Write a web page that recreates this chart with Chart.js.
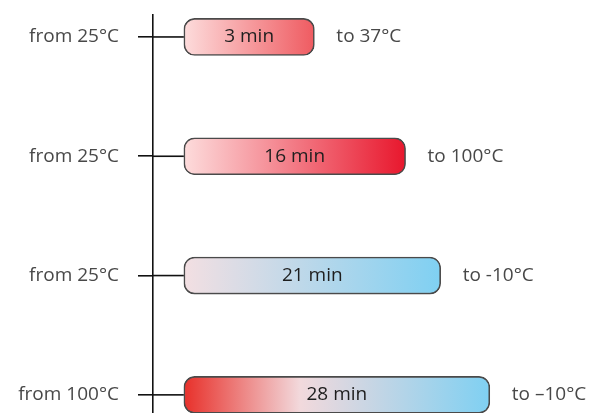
<!DOCTYPE html>
<html>
<head>
<meta charset="utf-8">
<script src="https://cdn.jsdelivr.net/npm/chart.js@4.4.1/dist/chart.umd.min.js"></script>
<style>
html,body{margin:0;padding:0;background:#fff;overflow:hidden;}
#wrap{width:595px;height:413px;position:relative;}
</style>
</head>
<body>
<div id="wrap"><canvas id="c"></canvas></div>
<script>
// ---- data ----
const fromLabels = ['from 25\u00B0C', 'from 25\u00B0C', 'from 25\u00B0C', 'from 100\u00B0C'];
const toLabels = ['to 37\u00B0C', 'to 100\u00B0C', 'to -10\u00B0C', 'to \u201310\u00B0C'];
const minutes = [3, 16, 21, 28];
const barTexts = ['3 min', '16 min', '21 min', '28 min'];
const barBase = -15.6;

// ---- styles ----
const gradStops = [
  [[0, '#fddcdc'], [1, '#ef5b61']],
  [[0, '#fddcdc'], [1, '#e8172d']],
  [[0, '#f3dfe2'], [1, '#7fd0f2']],
  [[0, '#e8302a'], [0.38, '#f2d9dc'], [1, '#7fd0f2']]
];
const FONT = '"Open Sans", sans-serif';
const FSIZE = 19;

function barFill(ctx) {
  const chart = ctx.chart;
  const i = ctx.dataIndex;
  if (!chart.chartArea || i === undefined) return '#f88';
  const xs = chart.scales.x;
  const x0 = xs.getPixelForValue(barBase);
  const x1 = xs.getPixelForValue(minutes[i]);
  const g = chart.ctx.createLinearGradient(x0, 0, x1, 0);
  gradStops[i].forEach(s => g.addColorStop(s[0], s[1]));
  return g;
}

const annot = {
  id: 'annot',
  beforeDatasetsDraw(chart) {
    const c = chart.ctx, xs = chart.scales.x, ys = chart.scales.y;
    c.save();
    c.strokeStyle = '#111';
    c.lineWidth = 1.6;
    minutes.forEach((m, i) => {
      const y = ys.getPixelForValue(i);
      c.beginPath();
      c.moveTo(chart.chartArea.left, y);
      c.lineTo(xs.getPixelForValue(barBase), y);
      c.stroke();
    });
    c.restore();
  },
  afterDatasetsDraw(chart) {
    const c = chart.ctx, xs = chart.scales.x, ys = chart.scales.y;
    c.save();
    c.textBaseline = 'middle';
    c.font = FSIZE + 'px ' + FONT;
    minutes.forEach((m, i) => {
      const y = ys.getPixelForValue(i);
      const x0 = xs.getPixelForValue(barBase);
      const x1 = xs.getPixelForValue(m);
      c.fillStyle = '#1e1e1e';
      c.textAlign = 'center';
      c.fillText(barTexts[i], (x0 + x1) / 2, y);
      c.fillStyle = '#484848';
      c.textAlign = 'left';
      c.fillText(toLabels[i], x1 + 22, y);
    });
    c.restore();
  }
};

new Chart(document.getElementById('c'), {
  type: 'bar',
  data: {
    datasets: [{
      data: minutes.map((m, i) => ({ x: m, y: i })),
      base: barBase,
      backgroundColor: barFill,
      borderColor: '#4a4a4a',
      borderWidth: 1.6,
      borderSkipped: false,
      borderRadius: 11,
      barThickness: 37
    }]
  },
  options: {
    indexAxis: 'y',
    responsive: true,
    maintainAspectRatio: false,
    animation: false,
    layout: { padding: { top: 15, right: 0, bottom: 0, left: 0 } },
    plugins: { legend: { display: false }, tooltip: { enabled: false } },
    scales: {
      x: {
        type: 'linear',
        min: -20,
        max: 43,
        display: false
      },
      y: {
        type: 'linear',
        reverse: true,
        offset: false,
        min: -0.184,
        max: 3.152,
        afterBuildTicks(scale) { scale.ticks = fromLabels.map((_, i) => ({ value: i })); },
        afterFit(scale) {
          scale.width = 153;
          scale.paddingTop = 0;
          scale.paddingBottom = 0;
        },
        border: { display: true, color: '#111', width: 1.6 },
        grid: { offset: false, drawOnChartArea: false, drawTicks: true, tickLength: 15, color: '#111', lineWidth: 1.6 },
        ticks: {
          padding: 19,
          color: '#484848',
          font: { size: FSIZE, family: FONT },
          callback: (v) => fromLabels[v] || ''
        }
      }
    }
  },
  plugins: [annot]
});
</script>
</body>
</html>
